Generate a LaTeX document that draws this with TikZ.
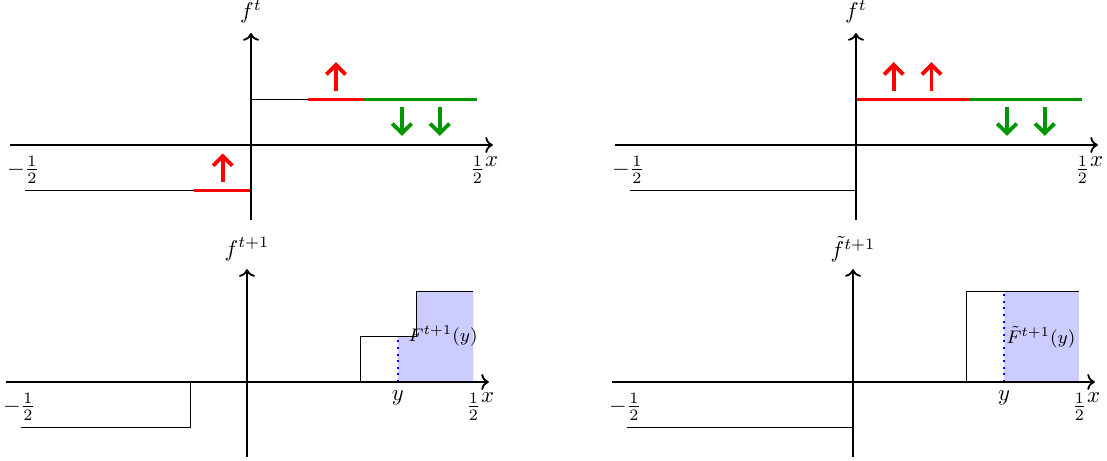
\documentclass[tikz,border=0pt]{standalone}
\usetikzlibrary{arrows.meta}
\definecolor{myred}{RGB}{255,0,0}
\definecolor{mygreen}{RGB}{0,150,0}
\begin{document}
\begin{tikzpicture}[x=0.44pt,y=-0.44pt,
  axisline/.style={thick,->},
  fn/.style={thin},
  redseg/.style={myred,line width=1.4pt},
  greenseg/.style={mygreen,line width=1.4pt},
  uparrow/.style={myred,line width=1.7pt,-{Straight Barb[length=4.2pt,width=8.5pt]}},
  downarrow/.style={mygreen,line width=1.7pt,-{Straight Barb[length=4.2pt,width=8.5pt]}},
  shade/.style={fill=blue!20},
  ymark/.style={blue,line width=0.9pt,dash pattern=on 0.9pt off 2pt},
  lbl/.style={inner sep=0pt},
  flbl/.style={inner sep=0pt,font=\footnotesize}]
\useasboundingbox (0,0) rectangle (1107,461);

% ---------- top left ----------
\begin{scope}[shift={(251,145)},x=199.3pt,y=20.02pt]
  \draw[fn] (-0.5,-1) -- (-0.125,-1);
  \draw[redseg] (-0.125,-1) -- (0,-1);
  \draw[fn] (0,-1) -- (0,1) -- (0.125,1);
  \draw[redseg] (0.125,1) -- (0.25,1);
  \draw[greenseg] (0.25,1) -- (0.5,1);
  \draw[uparrow] (-0.0625,-0.824) -- (-0.0625,-0.186);
  \draw[uparrow] (0.1875,1.18) -- (0.1875,1.82);
  \draw[downarrow] (0.3333,0.835) -- (0.3333,0.2);
  \draw[downarrow] (0.4167,0.835) -- (0.4167,0.2);
  \draw[axisline] (-0.532,0) -- (0.534,0);
  \draw[axisline] (0,-1.65) -- (0,2.46);
  \node[lbl] (tlf) at (0,2.92) {$f^t$};
  \node[lbl] (tlm) at (-0.503,-0.54) {$-\frac{1}{2}$};
  \node[lbl] (tlh) at (0.5,-0.54) {$\frac{1}{2}$};
  \node[lbl] (tlx) at (0.531,-0.36) {$x$};
\end{scope}

% ---------- top right ----------
\begin{scope}[shift={(856,145)},x=199.3pt,y=20.02pt]
  \draw[fn] (-0.5,-1) -- (0,-1) -- (0,1);
  \draw[redseg] (0,1) -- (0.25,1);
  \draw[greenseg] (0.25,1) -- (0.5,1);
  \draw[uparrow] (0.0833,1.18) -- (0.0833,1.82);
  \draw[uparrow] (0.1667,1.18) -- (0.1667,1.82);
  \draw[downarrow] (0.3333,0.835) -- (0.3333,0.2);
  \draw[downarrow] (0.4167,0.835) -- (0.4167,0.2);
  \draw[axisline] (-0.532,0) -- (0.534,0);
  \draw[axisline] (0,-1.65) -- (0,2.46);
  \node[lbl] (trf) at (0,2.92) {$f^t$};
  \node[lbl] (trm) at (-0.503,-0.54) {$-\frac{1}{2}$};
  \node[lbl] (trh) at (0.5,-0.54) {$\frac{1}{2}$};
  \node[lbl] (trx) at (0.531,-0.36) {$x$};
\end{scope}

% ---------- bottom left ----------
\begin{scope}[shift={(247,382)},x=199.3pt,y=20.02pt]
  \fill[shade] (0.3333,0) -- (0.3333,1) -- (0.375,1) -- (0.375,2) -- (0.5,2) -- (0.5,0) -- cycle;
  \draw[fn] (-0.5,-1) -- (-0.125,-1) -- (-0.125,0) -- (0.25,0) -- (0.25,1)
            -- (0.375,1) -- (0.375,2) -- (0.5,2);
  \draw[ymark] (0.3333,0) -- (0.3333,1);
  \draw[axisline] (-0.532,0) -- (0.534,0);
  \draw[axisline] (0,-1.65) -- (0,2.48);
  \node[lbl] (blf) at (0,2.92) {$f^{t+1}$};
  \node[lbl] (blm) at (-0.503,-0.54) {$-\frac{1}{2}$};
  \node[lbl] (blh) at (0.5,-0.54) {$\frac{1}{2}$};
  \node[lbl] (blx) at (0.531,-0.34) {$x$};
  \node[lbl] (bly) at (0.3333,-0.35) {$y$};
  \node[flbl] (blF) at (0.433,1.01) {$F^{t+1}(y)$};
\end{scope}

% ---------- bottom right ----------
\begin{scope}[shift={(853,382)},x=199.3pt,y=20.02pt]
  \fill[shade] (0.3333,0) rectangle (0.5,2);
  \draw[fn] (-0.5,-1) -- (0,-1) -- (0,0) -- (0.25,0) -- (0.25,2) -- (0.5,2);
  \draw[ymark] (0.3333,0) -- (0.3333,2);
  \draw[axisline] (-0.532,0) -- (0.534,0);
  \draw[axisline] (0,-1.65) -- (0,2.48);
  \node[lbl] (brf) at (0,2.92) {$\tilde{f}^{t+1}$};
  \node[lbl] (brm) at (-0.503,-0.54) {$-\frac{1}{2}$};
  \node[lbl] (brh) at (0.5,-0.54) {$\frac{1}{2}$};
  \node[lbl] (brx) at (0.531,-0.34) {$x$};
  \node[lbl] (bry) at (0.3333,-0.35) {$y$};
  \node[flbl] (brF) at (0.415,0.99) {$\tilde{F}^{t+1}(y)$};
\end{scope}
\end{tikzpicture}
\end{document}
